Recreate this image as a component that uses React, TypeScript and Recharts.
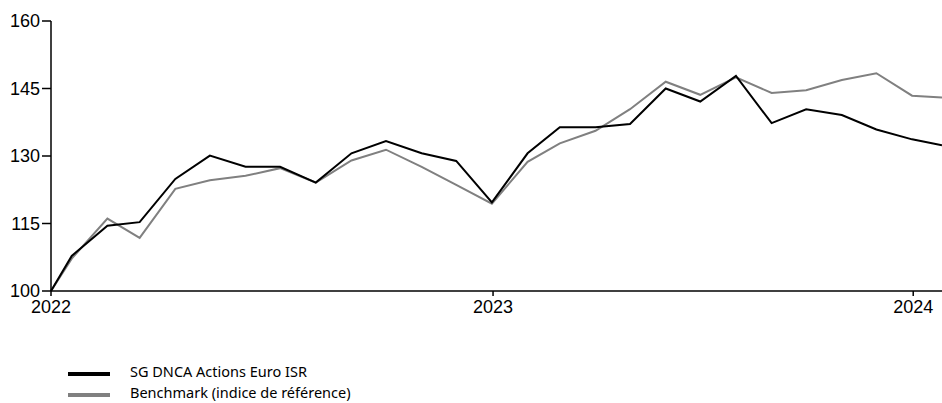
import { LineChart, Line, XAxis, YAxis } from "recharts";

// month-end dates (first point = launch, rebased to 100)
const dates = [
  "2021-12-13", "2021-12-31", "2022-01-31", "2022-02-28", "2022-03-31",
  "2022-04-30", "2022-05-31", "2022-06-30", "2022-07-31", "2022-08-31",
  "2022-09-30", "2022-10-31", "2022-11-30", "2022-12-31", "2023-01-31",
  "2023-02-28", "2023-03-31", "2023-04-30", "2023-05-31", "2023-06-30",
  "2023-07-31", "2023-08-31", "2023-09-30", "2023-10-31", "2023-11-30",
  "2023-12-31", "2024-01-26",
];

const fund = [
  100, 107.8, 114.5, 115.3, 124.9, 130.1, 127.6, 127.6, 124.1, 130.6,
  133.3, 130.6, 128.9, 119.7, 130.6, 136.4, 136.4, 137.1, 145.0, 142.1,
  147.8, 137.3, 140.4, 139.1, 135.9, 133.7, 132.4,
];

const benchmark = [
  100, 107.2, 116.1, 111.8, 122.7, 124.6, 125.6, 127.3, 124.1, 129.0,
  131.4, 127.6, 123.6, 119.4, 128.7, 132.8, 135.6, 140.4, 146.5, 143.6,
  147.5, 144.0, 144.6, 146.9, 148.4, 143.4, 143.0,
];

const seriesNames = ["SG DNCA Actions Euro ISR", "Benchmark (indice de référence)"];
const seriesColors = ["#000000", "#808080"];

const tickDates = ["2021-12-13", "2023-01-01", "2024-01-01"];
const tickLabels = ["2022", "2023", "2024"];
const yTicks = [100, 115, 130, 145, 160];

const data = dates.map((d, i) => ({
  t: Date.parse(d),
  fund: fund[i],
  benchmark: benchmark[i],
}));

const xTicks = tickDates.map((d) => Date.parse(d));
const tickFont = { fontFamily: "'Liberation Sans', Arial, sans-serif", fontSize: 18, fill: "#000" };

export default function App() {
  return (
    <div style={{ width: 942, height: 403, position: "relative", overflow: "hidden" }}>
      <style>{`body{margin:0}`}</style>
      <LineChart
        width={942}
        height={330}
        data={data}
        margin={{ top: 21, right: 0, left: 0, bottom: 0 }}
      >
        <XAxis
          dataKey="t"
          type="number"
          scale="time"
          domain={[data[0].t, data[data.length - 1].t]}
          ticks={xTicks}
          tickFormatter={(_v: number, i: number) => tickLabels[i]}
          tick={tickFont}
          tickSize={5}
          tickMargin={4}
          axisLine={{ stroke: "#000", strokeWidth: 1.5 }}
          tickLine={{ stroke: "#000", strokeWidth: 1.5 }}
          height={39}
          interval={0}
        />
        <YAxis
          domain={[100, 160]}
          ticks={yTicks}
          tick={tickFont}
          width={51}
          tickSize={9}
          tickMargin={2}
          axisLine={{ stroke: "#000", strokeWidth: 1.5 }}
          tickLine={{ stroke: "#000", strokeWidth: 1.5 }}
          interval={0}
        />
        <Line
          type="linear"
          dataKey="benchmark"
          stroke={seriesColors[1]}
          strokeWidth={2}
          dot={false}
          isAnimationActive={false}
        />
        <Line
          type="linear"
          dataKey="fund"
          stroke={seriesColors[0]}
          strokeWidth={2}
          dot={false}
          isAnimationActive={false}
        />
      </LineChart>
      <div style={{ position: "absolute", left: 68, top: 360, fontFamily: "'Noto Sans', sans-serif", fontSize: 14.5, color: "#000" }}>
        {seriesNames.map((name, i) => (
          <div key={name} style={{ display: "flex", alignItems: "center", height: 21 }}>
            <span style={{ display: "inline-block", width: 42, height: 4, background: seriesColors[i], marginRight: 20, marginTop: 6 }} />
            <span>{name}</span>
          </div>
        ))}
      </div>
    </div>
  );
}
